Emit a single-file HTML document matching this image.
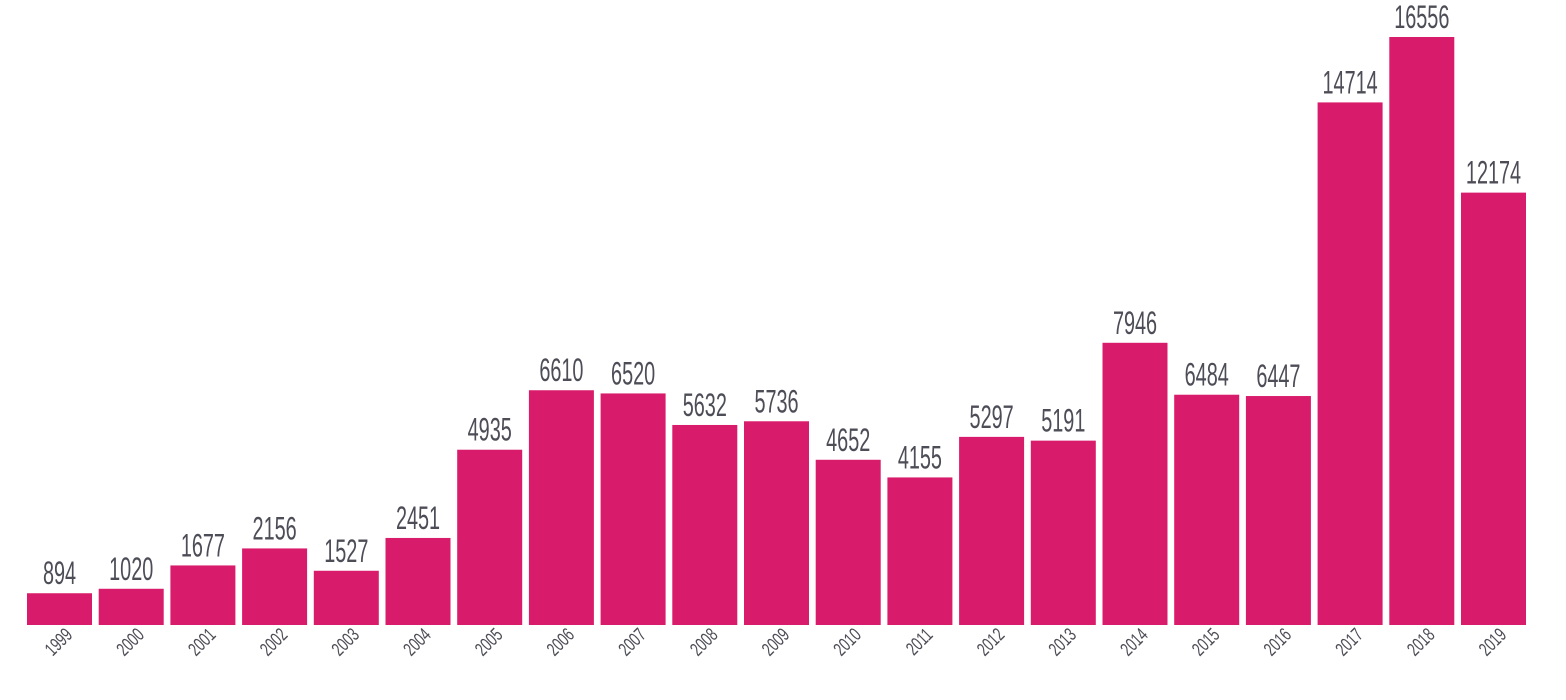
<!DOCTYPE html>
<html><head><meta charset="utf-8"><style>
html,body{margin:0;padding:0;background:#fff;}
svg{display:block;}
text{font-family:"Liberation Sans",sans-serif;fill:#4d4d57;}
</style></head><body>
<svg id="chart" width="1566" height="700" viewBox="0 0 1566 700" xmlns="http://www.w3.org/2000/svg"></svg>
<script>
const categories=["1999","2000","2001","2002","2003","2004","2005","2006","2007","2008","2009","2010","2011","2012","2013","2014","2015","2016","2017","2018","2019"];
const values=[894,1020,1677,2156,1527,2451,4935,6610,6520,5632,5736,4652,4155,5297,5191,7946,6484,6447,14714,16556,12174];
const svgEl=document.getElementById('chart');
const NS='http://www.w3.org/2000/svg';
const x0=27,pitch=71.7,bw=65,base=625,plotTop=37,maxV=16556;
function xPos(i){return x0+i*pitch;}
function yPos(v){return base-(v/maxV)*(base-plotTop);}
categories.forEach((c,i)=>{
  const x=xPos(i),y=yPos(values[i]);
  const r=document.createElementNS(NS,'rect');
  
  
  r.setAttribute('x',x);r.setAttribute('y',y);r.setAttribute('width',bw);r.setAttribute('height',base-y);
  r.setAttribute('fill','#d81b6a');
  svgEl.appendChild(r);
  const t=document.createElementNS(NS,'text');
  
  
  t.setAttribute('transform','translate('+(x+bw/2)+','+(y-9)+') scale(0.62,1)');
  t.setAttribute('text-anchor','middle');
  t.setAttribute('font-size','32');
  t.textContent=values[i];
  svgEl.appendChild(t);
  const yl=document.createElementNS(NS,'text');
  
  
  yl.setAttribute('transform','translate('+(x+bw/2+14)+',636) rotate(-45) scale(0.7,1)');
  yl.setAttribute('text-anchor','end');
  yl.setAttribute('font-size','19');
  yl.textContent=c;
  svgEl.appendChild(yl);
});
</script>
</body></html>
